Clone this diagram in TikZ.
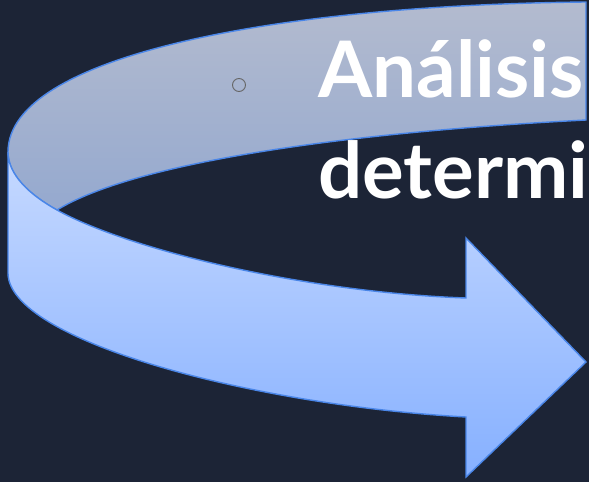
\documentclass[tikz,border=0pt]{standalone}
\usepackage{fontspec}
\setmainfont{Lato}
\definecolor{bg}{HTML}{1C2436}
\definecolor{edge}{HTML}{4A86E8}
\definecolor{backtop}{HTML}{B3BBCF}
\definecolor{backbot}{HTML}{95A9CF}
\definecolor{fronttop}{HTML}{C6D9FF}
\definecolor{frontbot}{HTML}{86B0FF}
\tikzset{
  band/.style={draw=edge, line width=1.4pt, line join=miter},
  bigtext/.style={text=white, inner sep=0pt, anchor=base west, font=\fontsize{78}{94}\selectfont\bfseries},
}
\begin{document}
\begin{tikzpicture}[x=1pt,y=-1pt]
\useasboundingbox (0,0) rectangle (589,482);
\fill[bg] (0,0) rectangle (589,482);
\clip (0,0) rectangle (589,482);
% back band
\path[band, top color=backtop, bottom color=backbot]
  (586,2) -- (586,120)
  .. controls (350,132) and (135,162) .. (57,210)
  .. controls (30,195) and (8,175) .. (8,152)
  .. controls (8,55) and (280,5) .. (586,2) -- cycle;
% front band with arrow head
\path[band, top color=fronttop, bottom color=frontbot]
  (8,152) -- (8,273)
  .. controls (8,340) and (250,405) .. (466,417)
  -- (466,477) -- (586,362) -- (466,238) -- (466,298)
  .. controls (300,292) and (125,248) .. (57,210)
  .. controls (30,195) and (8,175) .. (8,152) -- cycle;
\draw[draw=black!60, line width=0.9pt] (239,85) circle (6.5);
\node[bigtext] (t1) at (318,97) {Análisis};
\node[bigtext] (t2) at (318,198) {determi};
\end{tikzpicture}
\end{document}
